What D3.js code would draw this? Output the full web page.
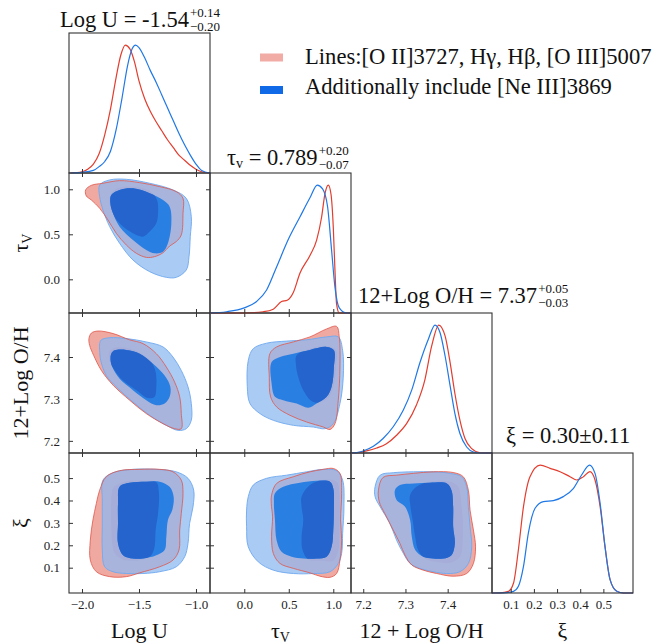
<!DOCTYPE html>
<html><head><meta charset="utf-8">
<script src="https://cdn.jsdelivr.net/npm/d3@7"></script>
<style>body{margin:0;background:#fff}</style>
</head><body>
<svg id="c" width="658" height="644"></svg>
<script>
// ---------------- DATA ----------------
const paramLabels = ["Log U", "τ", "12 + Log O/H", "ξ"];
const yLabels = [null, "τ", "12+Log O/H", "ξ"];
const tickValues = [[-2.0, -1.5, -1.0], [0.0, 0.5, 1.0], [7.2, 7.3, 7.4], [0.1, 0.2, 0.3, 0.4, 0.5]];
const xDomains = [[-2.114, -0.877], [-0.385, 1.199], [7.171, 7.505], [0.019, 0.628]];
const yDomains = [null, [-0.374, 1.181], [7.171, 7.505], [-0.013, 0.612]];
const legendLabels = ["Lines:[O II]3727, Hγ, Hβ, [O III]5007", "Additionally include [Ne III]3869"];
const titleMain = ["Log U = -1.54", "τ|v| = 0.789", "12+Log O/H = 7.37", "ξ = 0.30±0.11"];
const titleSup = ["+0.14", "+0.20", "+0.05", ""];
const titleSub = ["−0.20", "−0.07", "−0.03", ""];

// 1D marginals (normalised heights)
const logURed = [[-2.10,0],[-2.00,0.01],[-1.95,0.03],[-1.90,0.07],[-1.85,0.15],[-1.80,0.30],[-1.75,0.50],[-1.70,0.75],[-1.66,0.92],[-1.62,1.0],[-1.58,0.97],[-1.54,0.87],[-1.50,0.72],[-1.45,0.58],[-1.40,0.48],[-1.35,0.40],[-1.30,0.33],[-1.25,0.26],[-1.20,0.20],[-1.15,0.14],[-1.10,0.10],[-1.05,0.06],[-1.00,0.03],[-0.95,0.01],[-0.88,0]];
const logUBlue = [[-2.10,0],[-2.00,0.005],[-1.90,0.02],[-1.85,0.05],[-1.80,0.09],[-1.75,0.17],[-1.70,0.34],[-1.65,0.58],[-1.60,0.84],[-1.56,0.97],[-1.53,1.0],[-1.50,0.98],[-1.45,0.90],[-1.40,0.80],[-1.35,0.71],[-1.30,0.61],[-1.25,0.51],[-1.20,0.41],[-1.15,0.31],[-1.10,0.22],[-1.05,0.14],[-1.00,0.07],[-0.95,0.02],[-0.88,0]];
const tauRed = [[-0.386,0],[0.0,0],[0.213,0.01],[0.326,0.03],[0.419,0.09],[0.483,0.10],[0.551,0.16],[0.625,0.31],[0.738,0.45],[0.813,0.57],[0.869,0.75],[0.906,0.93],[0.944,1.0],[0.974,0.93],[1.0,0.67],[1.019,0.33],[1.037,0.07],[1.067,0],[1.19,0]];
const tauBlue = [[-0.386,0],[-0.199,0.01],[0.0,0.04],[0.139,0.09],[0.251,0.18],[0.363,0.36],[0.498,0.58],[0.625,0.75],[0.738,0.90],[0.820,1.0],[0.880,0.97],[0.936,0.83],[0.981,0.49],[1.019,0.20],[1.067,0.04],[1.15,0],[1.19,0]];
const ohRed = [[7.171,0],[7.184,0.002],[7.208,0.016],[7.232,0.039],[7.255,0.073],[7.279,0.139],[7.303,0.231],[7.326,0.375],[7.346,0.572],[7.362,0.835],[7.379,1.0],[7.394,0.913],[7.406,0.703],[7.417,0.467],[7.429,0.257],[7.441,0.113],[7.457,0.034],[7.477,0.002],[7.505,0]];
const ohBlue = [[7.171,0],[7.184,0.003],[7.200,0.016],[7.224,0.052],[7.247,0.113],[7.271,0.205],[7.295,0.336],[7.315,0.493],[7.334,0.703],[7.354,0.887],[7.370,1.0],[7.382,0.940],[7.394,0.756],[7.406,0.520],[7.417,0.310],[7.429,0.152],[7.445,0.047],[7.461,0.008],[7.477,0],[7.505,0]];
const xiRed = [[0.019,0],[0.054,0.001],[0.090,0.013],[0.112,0.078],[0.133,0.338],[0.155,0.675],[0.183,0.909],[0.227,1.0],[0.270,0.974],[0.313,0.948],[0.356,0.909],[0.385,0.883],[0.414,0.909],[0.442,0.948],[0.464,0.883],[0.486,0.675],[0.507,0.364],[0.529,0.104],[0.558,0.013],[0.586,0],[0.628,0]];
const xiBlue = [[0.019,0],[0.068,0.001],[0.112,0.013],[0.133,0.052],[0.155,0.208],[0.176,0.468],[0.205,0.662],[0.241,0.714],[0.284,0.722],[0.327,0.753],[0.371,0.818],[0.406,0.922],[0.440,1.0],[0.464,0.935],[0.486,0.701],[0.507,0.364],[0.529,0.104],[0.558,0.013],[0.586,0],[0.628,0]];

// 2D credible regions (outer = 2σ, inner = 1σ)
const logU_tau_red2 = [[-1.968,0.993],[-1.918,1.044],[-1.816,1.067],[-1.670,1.096],[-1.494,1.074],[-1.319,1.030],[-1.173,0.974],[-1.114,0.9],[-1.114,0.733],[-1.129,0.493],[-1.173,0.419],[-1.231,0.370],[-1.289,0.296],[-1.363,0.252],[-1.436,0.244],[-1.523,0.289],[-1.611,0.381],[-1.699,0.511],[-1.772,0.659],[-1.845,0.789],[-1.918,0.881],[-1.962,0.926]];
const logU_tau_red1 = [[-1.750,0.937],[-1.690,1.010],[-1.553,1.030],[-1.406,0.980],[-1.342,0.881],[-1.333,0.733],[-1.348,0.622],[-1.406,0.530],[-1.465,0.474],[-1.553,0.511],[-1.670,0.622],[-1.745,0.770]];
const logU_tau_blue2 = [[-1.845,1.048],[-1.757,1.104],[-1.611,1.111],[-1.406,1.067],[-1.202,0.993],[-1.085,0.9],[-1.041,0.696],[-1.050,0.474],[-1.061,0.252],[-1.085,0.104],[-1.173,0.022],[-1.260,0.022],[-1.406,0.085],[-1.553,0.215],[-1.670,0.4],[-1.757,0.585],[-1.816,0.770],[-1.845,0.919]];
const logU_tau_blue1 = [[-1.743,0.937],[-1.670,0.993],[-1.553,1.011],[-1.406,0.956],[-1.289,0.881],[-1.231,0.807],[-1.216,0.622],[-1.246,0.4],[-1.289,0.307],[-1.363,0.289],[-1.436,0.326],[-1.553,0.437],[-1.670,0.585],[-1.728,0.733],[-1.751,0.844]];

const logU_oh_red2 = [[-1.939,7.444],[-1.918,7.457],[-1.860,7.462],[-1.728,7.456],[-1.582,7.441],[-1.465,7.432],[-1.348,7.408],[-1.260,7.376],[-1.187,7.340],[-1.143,7.305],[-1.129,7.265],[-1.129,7.229],[-1.187,7.229],[-1.289,7.241],[-1.436,7.265],[-1.582,7.297],[-1.728,7.333],[-1.830,7.368],[-1.898,7.404],[-1.933,7.428]];
const logU_oh_red1 = [[-1.760,7.412],[-1.713,7.422],[-1.611,7.422],[-1.494,7.410],[-1.392,7.388],[-1.354,7.364],[-1.348,7.329],[-1.363,7.305],[-1.421,7.302],[-1.523,7.321],[-1.640,7.344],[-1.713,7.368],[-1.755,7.388]];
const logU_oh_blue2 = [[-1.845,7.432],[-1.830,7.441],[-1.757,7.446],[-1.611,7.444],[-1.436,7.436],[-1.289,7.424],[-1.202,7.400],[-1.129,7.368],[-1.070,7.329],[-1.041,7.289],[-1.041,7.249],[-1.085,7.229],[-1.158,7.225],[-1.260,7.237],[-1.406,7.261],[-1.553,7.293],[-1.699,7.329],[-1.787,7.356],[-1.836,7.392],[-1.845,7.416]];
const logU_oh_blue1 = [[-1.743,7.408],[-1.713,7.416],[-1.611,7.417],[-1.494,7.408],[-1.377,7.384],[-1.275,7.356],[-1.225,7.329],[-1.231,7.305],[-1.275,7.289],[-1.348,7.285],[-1.436,7.297],[-1.553,7.321],[-1.670,7.348],[-1.734,7.376],[-1.749,7.392]];

const logU_xi_red2 = [[-1.845,0.446],[-1.787,0.506],[-1.670,0.533],[-1.494,0.539],[-1.319,0.539],[-1.202,0.528],[-1.129,0.491],[-1.114,0.432],[-1.129,0.342],[-1.143,0.268],[-1.149,0.179],[-1.202,0.134],[-1.319,0.104],[-1.494,0.077],[-1.611,0.060],[-1.757,0.060],[-1.874,0.082],[-1.927,0.134],[-1.927,0.223],[-1.904,0.313],[-1.874,0.387]];
const logU_xi_red1 = [[-1.728,0.454],[-1.670,0.476],[-1.582,0.488],[-1.436,0.488],[-1.348,0.482],[-1.325,0.432],[-1.333,0.342],[-1.354,0.268],[-1.363,0.193],[-1.392,0.156],[-1.465,0.137],[-1.553,0.131],[-1.640,0.137],[-1.713,0.164],[-1.743,0.298],[-1.743,0.387]];
const logU_xi_blue2 = [[-1.816,0.491],[-1.728,0.524],[-1.553,0.539],[-1.348,0.539],[-1.173,0.528],[-1.070,0.499],[-1.020,0.446],[-1.026,0.372],[-1.056,0.298],[-1.070,0.208],[-1.099,0.149],[-1.173,0.104],[-1.319,0.082],[-1.465,0.074],[-1.611,0.074],[-1.728,0.082],[-1.801,0.104],[-1.822,0.179],[-1.822,0.298],[-1.822,0.402]];
const logU_xi_blue1 = [[-1.670,0.461],[-1.582,0.479],[-1.436,0.484],[-1.319,0.484],[-1.231,0.461],[-1.196,0.417],[-1.208,0.357],[-1.246,0.313],[-1.260,0.238],[-1.275,0.179],[-1.348,0.156],[-1.465,0.141],[-1.553,0.141],[-1.640,0.156],[-1.684,0.208],[-1.684,0.298],[-1.684,0.387]];

const tau_oh_red2 = [[0.288,7.408],[0.363,7.424],[0.551,7.436],[0.738,7.448],[0.925,7.467],[1.037,7.473],[1.067,7.448],[1.075,7.376],[1.056,7.297],[1.019,7.241],[0.963,7.227],[0.888,7.233],[0.700,7.245],[0.513,7.261],[0.363,7.281],[0.296,7.305],[0.281,7.352]];
const tau_oh_red1 = [[0.588,7.404],[0.738,7.420],[0.925,7.426],[1.030,7.416],[1.030,7.376],[1.0,7.329],[0.944,7.303],[0.831,7.291],[0.757,7.295],[0.663,7.321],[0.607,7.352],[0.581,7.380]];
const tau_oh_blue2 = [[0.045,7.392],[0.101,7.420],[0.251,7.433],[0.476,7.438],[0.700,7.441],[0.925,7.448],[1.056,7.448],[1.105,7.416],[1.112,7.352],[1.075,7.289],[1.0,7.241],[0.906,7.229],[0.775,7.233],[0.551,7.237],[0.326,7.249],[0.176,7.265],[0.064,7.289],[0.034,7.329]];
const tau_oh_blue1 = [[0.307,7.388],[0.401,7.4],[0.551,7.408],[0.738,7.417],[0.925,7.424],[1.007,7.416],[1.007,7.376],[0.981,7.329],[0.925,7.305],[0.813,7.289],[0.719,7.279],[0.588,7.289],[0.438,7.297],[0.345,7.305],[0.307,7.337]];

const tau_xi_red2 = [[0.307,0.424],[0.363,0.476],[0.551,0.506],[0.738,0.528],[0.888,0.539],[1.0,0.543],[1.075,0.521],[1.094,0.432],[1.082,0.313],[1.094,0.223],[1.075,0.134],[1.037,0.074],[0.963,0.057],[0.850,0.062],[0.738,0.077],[0.551,0.097],[0.401,0.119],[0.326,0.164],[0.307,0.238],[0.318,0.327],[0.303,0.387]];
const tau_xi_red1 = [[0.644,0.417],[0.738,0.469],[0.888,0.491],[1.037,0.484],[1.067,0.432],[1.067,0.298],[1.056,0.179],[1.0,0.131],[0.888,0.131],[0.719,0.137],[0.655,0.179],[0.644,0.238],[0.663,0.313],[0.644,0.372]];
const tau_xi_blue2 = [[0.045,0.417],[0.101,0.469],[0.251,0.499],[0.476,0.513],[0.700,0.528],[0.888,0.539],[1.037,0.533],[1.105,0.491],[1.120,0.372],[1.105,0.253],[1.094,0.164],[1.056,0.119],[0.963,0.082],[0.775,0.074],[0.551,0.074],[0.326,0.089],[0.157,0.126],[0.045,0.193],[0.026,0.283],[0.026,0.357]];
const tau_xi_blue1 = [[0.345,0.432],[0.438,0.461],[0.625,0.479],[0.813,0.488],[0.963,0.484],[1.0,0.454],[1.007,0.372],[1.0,0.268],[0.981,0.193],[0.925,0.149],[0.813,0.141],[0.663,0.141],[0.532,0.149],[0.419,0.171],[0.363,0.223],[0.345,0.313],[0.333,0.387]];

const oh_xi_red2 = [[7.236,0.446],[7.247,0.503],[7.279,0.513],[7.319,0.521],[7.366,0.528],[7.413,0.525],[7.437,0.506],[7.449,0.446],[7.453,0.357],[7.461,0.268],[7.466,0.193],[7.461,0.119],[7.445,0.074],[7.413,0.062],[7.374,0.074],[7.342,0.089],[7.315,0.112],[7.299,0.156],[7.287,0.208],[7.271,0.268],[7.251,0.342],[7.238,0.394]];
const oh_xi_red1 = [[7.311,0.424],[7.326,0.461],[7.358,0.484],[7.406,0.484],[7.425,0.461],[7.433,0.372],[7.436,0.253],[7.429,0.149],[7.406,0.122],[7.374,0.126],[7.346,0.141],[7.330,0.179],[7.323,0.238],[7.317,0.313],[7.312,0.372]];
const oh_xi_blue2 = [[7.228,0.461],[7.240,0.513],[7.271,0.524],[7.319,0.528],[7.366,0.528],[7.406,0.521],[7.433,0.506],[7.445,0.461],[7.449,0.372],[7.453,0.283],[7.457,0.193],[7.449,0.119],[7.429,0.082],[7.398,0.074],[7.366,0.082],[7.334,0.097],[7.311,0.119],[7.295,0.164],[7.279,0.223],[7.263,0.298],[7.240,0.372],[7.228,0.417]];
const oh_xi_blue1 = [[7.275,0.446],[7.287,0.469],[7.319,0.476],[7.358,0.479],[7.398,0.476],[7.409,0.446],[7.413,0.372],[7.413,0.283],[7.417,0.208],[7.409,0.156],[7.390,0.141],[7.366,0.141],[7.342,0.149],[7.323,0.179],[7.315,0.238],[7.311,0.313],[7.299,0.372],[7.279,0.402]];

// ---------------- LAYOUT / STYLE ----------------
const FONT = "'Liberation Serif', 'Times New Roman', serif";
const colX = [69, 210, 351, 492], rowY = [33, 173, 313, 453];
const PW = 141, PH = 140;
const COL = {
  redLine: "#e23d2e", blueLine: "#1f78e6",
  red2: "#f0a9a1", red1: "#eba097", blue2: "#a9cbf4",
  over2: "#a9b4dc", over21: "#a5add8", blue1: "#2a7fe3", over11: "#2464cc",
  red2Edge: "#e0564a", blue2Edge: "#6fa8ee",
  legRed: "#f1aca6", legBlue: "#1069e6", frame: "#333"
};

const svg = d3.select("#c");
const defs = svg.append("defs");
const xs = xDomains.map((d, i) => d3.scaleLinear().domain(d).range([colX[i], colX[i] + PW]));
const ys = yDomains.map((d, i) => d ? d3.scaleLinear().domain(d).range([rowY[i] + PH, rowY[i]]) : null);
const fmt = d3.format(".1f");

function styleAxis(g, showLabels) {
  g.attr("font-family", FONT).attr("font-size", 13);
  g.select(".domain").remove();
  g.selectAll(".tick line").attr("stroke", COL.frame).attr("stroke-width", 1);
  g.selectAll(".tick text").attr("font-family", FONT).attr("font-size", 13).attr("fill", "#222");
  if (!showLabels) g.selectAll(".tick text").remove();
}

// ---- 2D panels ----
const panels2D = [
  {r:1, c:0, red2:logU_tau_red2, red1:logU_tau_red1, blue2:logU_tau_blue2, blue1:logU_tau_blue1},
  {r:2, c:0, red2:logU_oh_red2, red1:logU_oh_red1, blue2:logU_oh_blue2, blue1:logU_oh_blue1},
  {r:3, c:0, red2:logU_xi_red2, red1:logU_xi_red1, blue2:logU_xi_blue2, blue1:logU_xi_blue1},
  {r:2, c:1, red2:tau_oh_red2, red1:tau_oh_red1, blue2:tau_oh_blue2, blue1:tau_oh_blue1},
  {r:3, c:1, red2:tau_xi_red2, red1:tau_xi_red1, blue2:tau_xi_blue2, blue1:tau_xi_blue1},
  {r:3, c:2, red2:oh_xi_red2, red1:oh_xi_red1, blue2:oh_xi_blue2, blue1:oh_xi_blue1}
];

panels2D.forEach((p, k) => {
  const x = xs[p.c], y = ys[p.r];
  const line = d3.line().x(d => x(d[0])).y(d => y(d[1])).curve(d3.curveCatmullRomClosed.alpha(0.5));
  const id = "p" + k;
  defs.append("clipPath").attr("id", id + "b2").append("path").attr("d", line(p.blue2));
  defs.append("clipPath").attr("id", id + "b1").append("path").attr("d", line(p.blue1));
  const g = svg.append("g");
  g.append("path").attr("d", line(p.red2)).attr("fill", COL.red2);
  g.append("path").attr("d", line(p.red1)).attr("fill", COL.red1);
  g.append("path").attr("d", line(p.blue2)).attr("fill", COL.blue2);
  g.append("g").attr("clip-path", `url(#${id}b2)`).append("path").attr("d", line(p.red2)).attr("fill", COL.over2);
  g.append("g").attr("clip-path", `url(#${id}b2)`).append("path").attr("d", line(p.red1)).attr("fill", COL.over21);
  g.append("path").attr("d", line(p.blue1)).attr("fill", COL.blue1);
  g.append("g").attr("clip-path", `url(#${id}b1)`).append("path").attr("d", line(p.red1)).attr("fill", COL.over11);
  g.append("path").attr("d", line(p.blue2)).attr("fill", "none").attr("stroke", COL.blue2Edge).attr("stroke-width", 0.9);
  g.append("path").attr("d", line(p.red2)).attr("fill", "none").attr("stroke", COL.red2Edge).attr("stroke-width", 0.8);

  const top = rowY[p.r], bot = rowY[p.r] + PH, left = colX[p.c], right = colX[p.c] + PW;
  styleAxis(svg.append("g").attr("transform", `translate(0,${bot})`)
    .call(d3.axisBottom(x).tickValues(tickValues[p.c]).tickSize(-4).tickPadding(7).tickFormat(fmt)), p.r === 3);
  styleAxis(svg.append("g").attr("transform", `translate(0,${top})`)
    .call(d3.axisTop(x).tickValues(tickValues[p.c]).tickSize(-4)), false);
  styleAxis(svg.append("g").attr("transform", `translate(${left},0)`)
    .call(d3.axisLeft(y).tickValues(tickValues[p.r]).tickSize(-4).tickPadding(9).tickFormat(fmt)), p.c === 0);
  styleAxis(svg.append("g").attr("transform", `translate(${right},0)`)
    .call(d3.axisRight(y).tickValues(tickValues[p.r]).tickSize(-4)), false);
  svg.append("rect").attr("x", left).attr("y", top).attr("width", PW).attr("height", PH)
    .attr("fill", "none").attr("stroke", COL.frame).attr("stroke-width", 1.1);
});

// ---- 1D panels ----
const marginals = [[logURed, logUBlue], [tauRed, tauBlue], [ohRed, ohBlue], [xiRed, xiBlue]];
marginals.forEach((pair, i) => {
  const x = xs[i];
  const yh = d3.scaleLinear().domain([0, 1.094]).range([rowY[i] + PH, rowY[i]]);
  const line = d3.line().x(d => x(d[0])).y(d => yh(d[1])).curve(d3.curveMonotoneX);
  svg.append("path").attr("d", line(pair[0])).attr("fill", "none").attr("stroke", COL.redLine).attr("stroke-width", 1.2);
  svg.append("path").attr("d", line(pair[1])).attr("fill", "none").attr("stroke", COL.blueLine).attr("stroke-width", 1.2);
  const bot = rowY[i] + PH;
  styleAxis(svg.append("g").attr("transform", `translate(0,${bot})`)
    .call(d3.axisBottom(x).tickValues(tickValues[i]).tickSize(-4).tickPadding(7).tickFormat(fmt)), i === 3);
  svg.append("rect").attr("x", colX[i]).attr("y", rowY[i]).attr("width", PW).attr("height", PH)
    .attr("fill", "none").attr("stroke", COL.frame).attr("stroke-width", 1.1);
});

// ---- Titles ----
const titleX = [60, 227, 358, 506], titleBase = [27, 165, 303, 443];
titleMain.forEach((t, i) => {
  const txt = svg.append("text").attr("x", titleX[i]).attr("y", titleBase[i])
    .attr("font-family", FONT).attr("font-size", 22.5).attr("fill", "#111");
  const parts = t.split("|");
  if (parts.length === 3) {
    txt.append("tspan").text(parts[0]);
    txt.append("tspan").attr("font-size", 14).attr("dy", 3).text(parts[1]);
    txt.append("tspan").attr("dy", -3).text(parts[2]);
  } else txt.text(t);
  const w = txt.node().getComputedTextLength();
  if (titleSup[i]) {
    svg.append("text").attr("x", titleX[i] + w + 1).attr("y", titleBase[i] - 10.5)
      .attr("font-family", FONT).attr("font-size", 13).attr("fill", "#111").text(titleSup[i]);
    svg.append("text").attr("x", titleX[i] + w + 1).attr("y", titleBase[i] + 4)
      .attr("font-family", FONT).attr("font-size", 13).attr("fill", "#111").text(titleSub[i]);
  }
});

// ---- Axis labels ----
paramLabels.forEach((lab, i) => {
  const t = svg.append("text").attr("x", colX[i] + PW / 2).attr("y", 638).attr("text-anchor", "middle")
    .attr("font-family", FONT).attr("font-size", 22).attr("fill", "#111");
  if (lab === "τ") { t.append("tspan").text("τ"); t.append("tspan").attr("font-size", 14).attr("dy", 4).text("V"); }
  else t.text(lab);
});
yLabels.forEach((lab, i) => {
  if (!lab) return;
  const cy = rowY[i] + PH / 2;
  const t = svg.append("text").attr("transform", `translate(28,${cy}) rotate(-90)`).attr("text-anchor", "middle")
    .attr("font-family", FONT).attr("font-size", 22).attr("fill", "#111");
  if (lab === "τ") { t.append("tspan").text("τ"); t.append("tspan").attr("font-size", 14).attr("dy", 4).text("V"); }
  else t.text(lab);
});

// ---- Legend ----
const legColors = [COL.legRed, COL.legBlue];
const legY = [64, 94], patchY = [53.5, 86];
legendLabels.forEach((lab, i) => {
  svg.append("rect").attr("x", 260).attr("y", patchY[i]).attr("width", 23).attr("height", 8).attr("fill", legColors[i]);
  svg.append("text").attr("x", 305).attr("y", legY[i]).attr("font-family", FONT).attr("font-size", 22.6)
    .attr("fill", "#111").text(lab);
});
</script>
</body></html>
